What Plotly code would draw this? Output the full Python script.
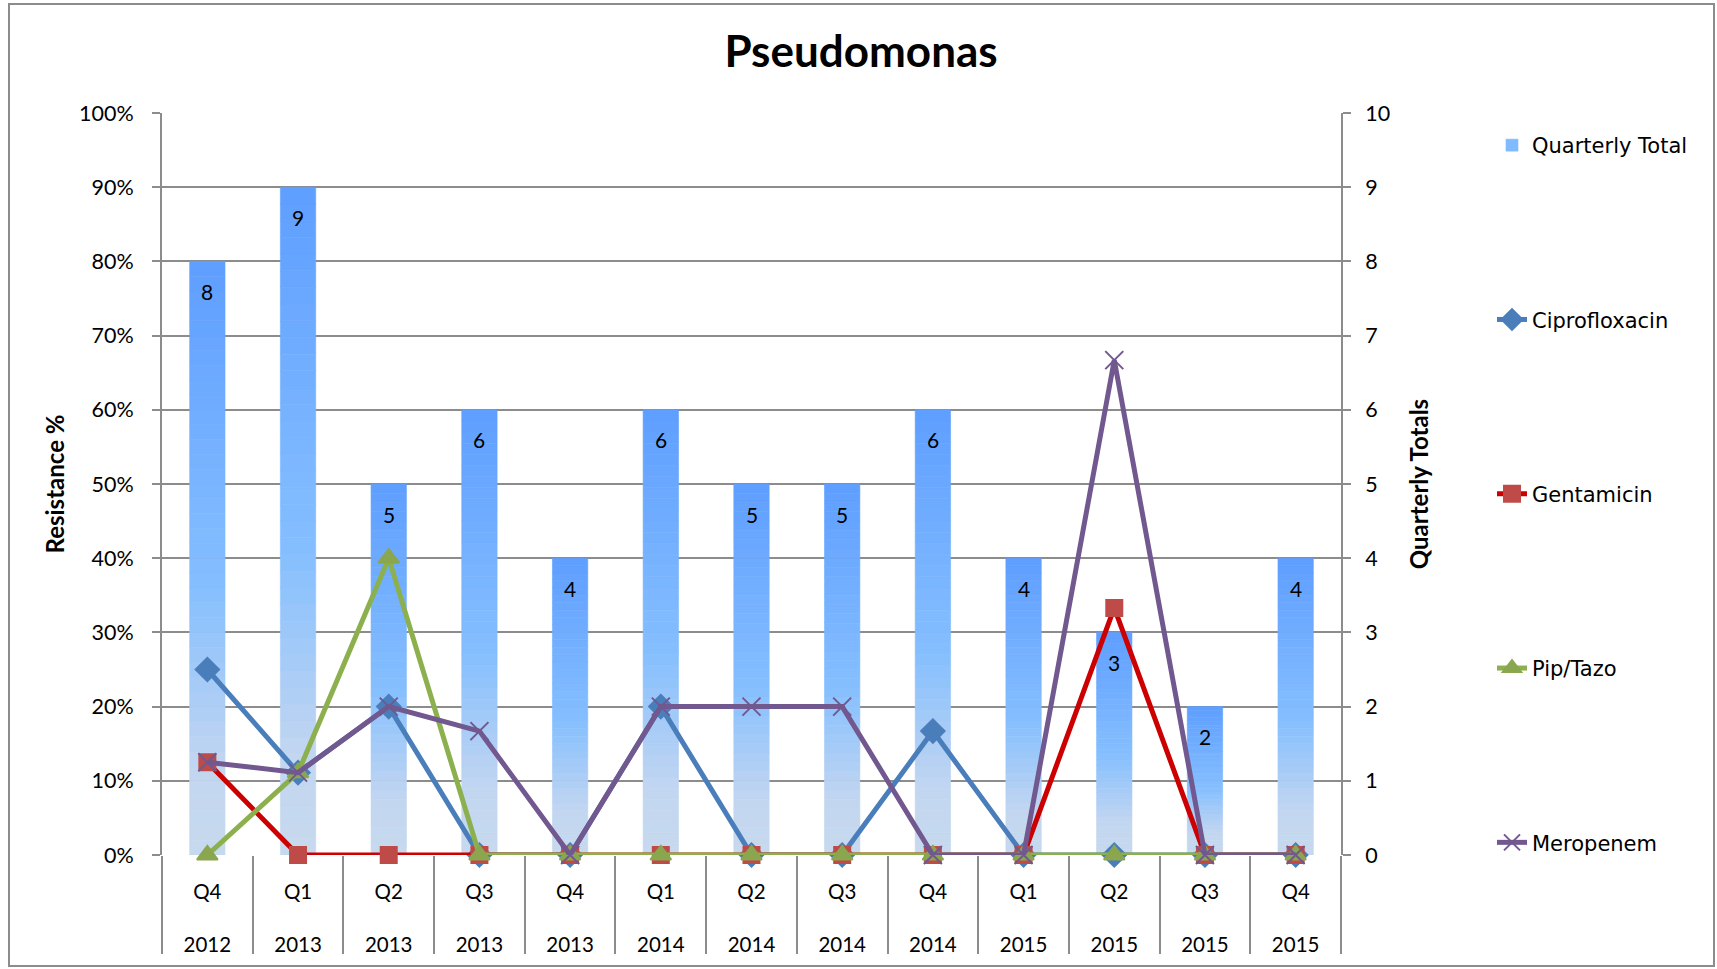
import plotly.graph_objects as go

quarters = ["Q4", "Q1", "Q2", "Q3", "Q4", "Q1", "Q2", "Q3", "Q4", "Q1", "Q2", "Q3", "Q4"]
years = ["2012", "2013", "2013", "2013", "2013", "2014", "2014", "2014", "2014", "2015", "2015", "2015", "2015"]
totals = [8, 9, 5, 6, 4, 6, 5, 5, 6, 4, 3, 2, 4]
cipro = [25, 11.1, 20, 0, 0, 20, 0, 0, 16.7, 0, 0, 0, 0]
genta = [12.5, 0, 0, 0, 0, 0, 0, 0, 0, 0, 33.3, 0, 0]
piptazo = [0, 11.1, 40, 0, 0, 0, 0, 0, 0, 0, 0, 0, 0]
mero = [12.5, 11.1, 20, 16.7, 0, 20, 20, 20, 0, 0, 66.7, 0, 0]

cats = [f"{q}<br><br>{y}" for q, y in zip(quarters, years)]

FONT = "Lato"
GRID = "#8C8C8C"

fig = go.Figure()

# gradient bars: stacked slices, top blue -> bottom pale
stops = [(0.0, (94, 158, 255)), (0.55, (134, 191, 255)), (0.85, (194, 214, 240)), (1.0, (198, 217, 238))]


def grad(t):
    for (a, ca), (b, cb) in zip(stops[:-1], stops[1:]):
        if a <= t <= b:
            f = (t - a) / (b - a) if b > a else 0
            c = [round(ca[i] + (cb[i] - ca[i]) * f) for i in range(3)]
            return f"rgb({c[0]},{c[1]},{c[2]})"
    return "rgb(198,217,238)"


N = 40
for k in range(N):
    t_from_top = 1 - (k + 0.5) / N
    fig.add_trace(go.Bar(
        x=cats, y=[v / N for v in totals], base=[v * k / N for v in totals],
        marker=dict(color=grad(t_from_top), line=dict(width=0.6, color=grad(t_from_top))),
        width=0.39, yaxis="y", name="Quarterly Total",
        showlegend=(k == N // 2), legendgroup="qt", hoverinfo="skip",
    ))

series = [
    ("Ciprofloxacin", cipro, "#4A7EBB", "#4A7EBB", "diamond", 18),
    ("Gentamicin", genta, "#CC0000", "#BE4B48", "square", 16),
    ("Pip/Tazo", piptazo, "#8DB04E", "#8AA64F", "triangle-up", 18),
    ("Meropenem", mero, "#71588F", "#71588F", "x-thin", 18),
]
for name, vals, lc, mc, sym, sz in series:
    fig.add_trace(go.Scatter(
        x=cats, y=vals, yaxis="y2", name=name, mode="lines+markers",
        line=dict(color=lc, width=5),
        marker=dict(symbol=sym, size=sz, color=mc, line=dict(color=mc, width=2)),
        legendgroup=name, cliponaxis=False,
    ))

annotations = [
    dict(x=c, y=v, xref="x", yref="y", text=str(v), showarrow=False,
         yshift=-30, yanchor="middle", font=dict(family=FONT, size=21, color="black"))
    for c, v in zip(cats, totals)
]

fig.update_layout(
    width=1717, height=969,
    margin=dict(l=162, r=376, t=113, b=114),
    paper_bgcolor="white", plot_bgcolor="white",
    barmode="overlay",
    font=dict(family=FONT, size=20, color="black"),
    title=dict(text="<b>Pseudomonas</b>", x=861 / 1717, xanchor="center", y=1 - 52 / 969, yanchor="middle",
               font=dict(family=FONT, size=44, color="black")),
    xaxis=dict(
        type="category", categoryorder="array", categoryarray=cats,
        showgrid=False, showline=False, zeroline=False,
        ticks="outside", tickson="boundaries", ticklen=98, tickwidth=2, tickcolor=GRID,
        ticklabelstandoff=22, tickfont=dict(family=FONT, size=20.5),
        range=[-0.5, 12.5],
    ),
    yaxis=dict(
        side="right", range=[0, 10], dtick=1, tick0=0,
        showgrid=True, gridcolor=GRID, gridwidth=2,
        showline=True, linecolor=GRID, linewidth=2,
        ticks="outside", ticklen=8, tickwidth=2, tickcolor=GRID,
        ticklabelstandoff=10,
        zeroline=False, tickfont=dict(family=FONT, size=21.5),
        title=dict(text="<b>Quarterly Totals</b>", font=dict(family=FONT, size=24), standoff=22),
    ),
    yaxis2=dict(
        overlaying="y", side="left", range=[0, 100], dtick=10, tick0=0, ticksuffix="%",
        showgrid=False, showline=True, linecolor=GRID, linewidth=2,
        ticks="outside", ticklen=8, tickwidth=2, tickcolor=GRID,
        ticklabelstandoff=14,
        zeroline=False, tickfont=dict(family=FONT, size=21.5),
        title=dict(text="<b>Resistance %</b>", font=dict(family=FONT, size=24), standoff=8),
    ),
    legend=dict(
        x=(1492 - 162) / 1179, y=(855 - 125) / 742, xanchor="left", yanchor="top",
        font=dict(family="DejaVu Sans", size=21, color="black"),
        tracegroupgap=144, bgcolor="rgba(0,0,0,0)",
    ),
    annotations=annotations,
    shapes=[dict(type="rect", xref="paper", yref="paper",
                 x0=(9 - 162) / 1179, x1=(1714 - 162) / 1179,
                 y0=(855 - 966) / 742, y1=(855 - 4) / 742,
                 line=dict(color="#8C8C8C", width=2), fillcolor="rgba(0,0,0,0)", layer="below")],
)

fig.write_html("out.html", config={"displayModeBar": False},
               post_script="document.body.style.margin='0';")
